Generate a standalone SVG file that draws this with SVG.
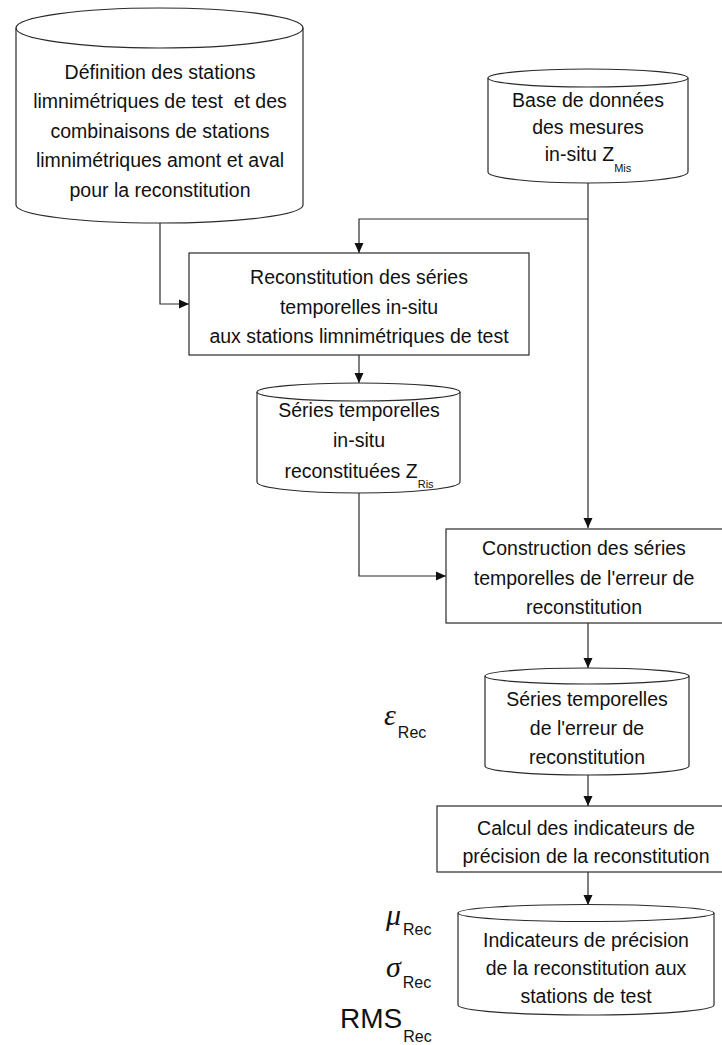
<svg xmlns="http://www.w3.org/2000/svg" width="722" height="1045" viewBox="0 0 722 1045">
<defs>
<marker id="arr" viewBox="0 0 10 10" refX="10" refY="5" markerWidth="10" markerHeight="10" markerUnits="userSpaceOnUse" orient="auto">
<path d="M0,0.5 L10,5 L0,9.5 Z" fill="#111"/>
</marker>
<style>
.s{fill:#fff;stroke:#2a2a2a;stroke-width:1.2}
.ln{fill:none;stroke:#2a2a2a;stroke-width:1.2}
.c{fill:none;stroke:#2a2a2a;stroke-width:1.2;marker-end:url(#arr)}
text{font-family:"Liberation Sans",Arial,sans-serif;font-size:19.5px;fill:#111;text-anchor:middle}
.sub{font-size:11px}
.lab{text-anchor:start}
.g{font-family:"Liberation Serif","DejaVu Serif",serif;font-style:italic;font-size:30px}
.r{font-size:16px}
</style>
</defs>
<rect width="722" height="1045" fill="#fff"/>

<g id="connectors">
<polyline class="c" points="160,223 160,304 189,304"/>
<polyline class="c" points="588,183 588,528"/>
<polyline class="c" points="588,219 359,219 359,253"/>
<polyline class="c" points="359,355 359,383"/>
<polyline class="c" points="359,493 359,576 446,576"/>
<polyline class="c" points="588,623 588,668"/>
<polyline class="c" points="588,775 588,806"/>
<polyline class="c" points="588,872 588,905"/>
</g>

<g id="n1">
<path class="s" d="M16,28 A143.5,20 0 0 1 303,28 L303,205 A143.5,18 0 0 1 16,205 Z"/>
<path class="ln" d="M16,28 A143.5,20 0 0 0 303,28"/>
<text x="160" y="78.5">Définition des stations</text>
<text x="160" y="108" xml:space="preserve">limnimétriques de test  et des</text>
<text x="160" y="137.5">combinaisons de stations</text>
<text x="160" y="167">limnimétriques amont et aval</text>
<text x="160" y="196.5">pour la reconstitution</text>
</g>

<g id="n2">
<path class="s" d="M488,78 A100,9 0 0 1 688,78 L688,172 A100,11 0 0 1 488,172 Z"/>
<path class="ln" d="M488,78 A100,9 0 0 0 688,78"/>
<text x="588" y="107">Base de données</text>
<text x="588" y="134">des mesures</text>
<text x="588" y="161">in-situ Z<tspan class="sub" dy="11">Mis</tspan></text>
</g>

<g id="n3">
<rect class="s" x="189" y="253" width="340" height="102"/>
<text x="359" y="284">Reconstitution des séries</text>
<text x="359" y="314">temporelles in-situ</text>
<text x="359" y="343">aux stations limnimétriques de test</text>
</g>

<g id="n4">
<path class="s" d="M257,392 A101.5,9 0 0 1 460,392 L460,482 A101.5,11 0 0 1 257,482 Z"/>
<path class="ln" d="M257,392 A101.5,9 0 0 0 460,392"/>
<text x="359" y="417">Séries temporelles</text>
<text x="359" y="447">in-situ</text>
<text x="359" y="478">reconstituées Z<tspan class="sub" dy="10">Ris</tspan></text>
</g>

<g id="n5">
<rect class="s" x="446" y="529" width="290" height="94"/>
<text x="584" y="555">Construction des séries</text>
<text x="584" y="585">temporelles de l'erreur de</text>
<text x="584" y="614">reconstitution</text>
</g>

<g id="n6">
<path class="s" d="M485,676 A102,8 0 0 1 689,676 L689,766 A102,9 0 0 1 485,766 Z"/>
<path class="ln" d="M485,676 A102,8 0 0 0 689,676"/>
<text x="587" y="706">Séries temporelles</text>
<text x="587" y="735">de l'erreur de</text>
<text x="587" y="764">reconstitution</text>
</g>

<g id="n7">
<rect class="s" x="437" y="806" width="300" height="66"/>
<text x="586" y="835">Calcul des indicateurs de</text>
<text x="586" y="863">précision de la reconstitution</text>
</g>

<g id="n8">
<path class="s" d="M458,913 A128,8.5 0 0 1 714,913 L714,1005 A128,10 0 0 1 458,1005 Z"/>
<path class="ln" d="M458,913 A128,8.5 0 0 0 714,913"/>
<text x="586" y="947">Indicateurs de précision</text>
<text x="586" y="975">de la reconstitution aux</text>
<text x="586" y="1003">stations de test</text>
</g>

<g id="labels">
<text class="lab" x="384" y="725"><tspan class="g">ε</tspan><tspan class="r" dx="2" dy="13">Rec</tspan></text>
<text class="lab" x="386" y="925"><tspan class="g">μ</tspan><tspan class="r" dx="2" dy="10">Rec</tspan></text>
<text class="lab" x="386" y="977"><tspan class="g">σ</tspan><tspan class="r" dx="2" dy="11">Rec</tspan></text>
<text class="lab" x="340" y="1028"><tspan style="font-size:28px">RMS</tspan><tspan class="r" dx="1" dy="14">Rec</tspan></text>
</g>
</svg>
